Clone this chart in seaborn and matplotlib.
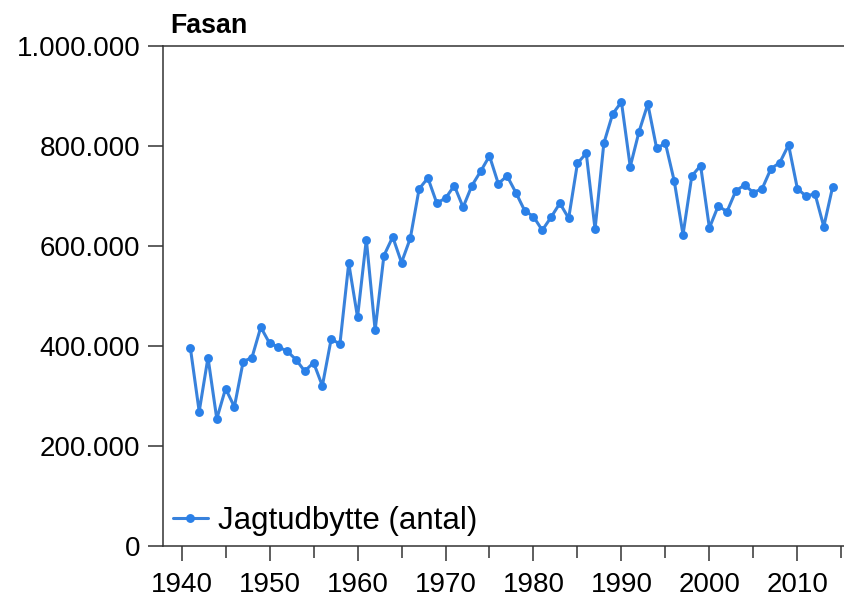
import matplotlib
matplotlib.use("Agg")
import matplotlib.pyplot as plt
import matplotlib.ticker as mticker
import seaborn as sns
import pandas as pd

years = list(range(1941, 2015))
values = [
    394800, 268000, 376000, 253400, 314000, 277400, 368000, 376000, 436800, 404800,
    397400, 388800, 372000, 348800, 366000, 319400, 412800, 403400, 564800, 456800,
    612200, 430800, 580000, 617400, 566000, 614800, 713400, 735400, 685400, 694800,
    720000, 676800, 720000, 748800, 779400, 724000, 739400, 706000, 670000, 658000,
    630800, 656800, 684800, 654800, 764800, 784800, 632800, 804800, 863400, 887400,
    758000, 828000, 883400, 794800, 804800, 729400, 622000, 739400, 760000, 635400,
    679400, 668000, 709400, 721400, 706000, 714000, 754000, 766000, 801400, 714000,
    698800, 704000, 638000, 716800,
]
series_label = "Jagtudbytte (antal)"
title = "Fasan"
x_major = list(range(1940, 2011, 10))
x_minor = list(range(1945, 2016, 10))
y_ticks = [0, 200000, 400000, 600000, 800000, 1000000]

df = pd.DataFrame({"year": years, "value": values, "series": series_label})

sns.set_theme(style="white")
plt.rcParams["font.family"] = ["Liberation Sans", "DejaVu Sans"]

fig = plt.figure(figsize=(8.44, 6.01), dpi=100)
ax = fig.add_axes([163.3 / 844, 1 - 545.5 / 601, 1 - 163.3 / 844, (545.5 - 45.7) / 601])

line_col = "#3882dc"
sns.lineplot(data=df, x="year", y="value", hue="series", palette=[line_col],
             marker="o", markersize=6.4, markerfacecolor="#2a80e8",
             markeredgewidth=0, linewidth=2.2, ax=ax)

ax.set_xlim(1937.92, 2015.3)
ax.set_ylim(0, 1000000)
ax.set_xticks(x_major)
ax.set_xticks(x_minor, minor=True)
ax.set_yticks(y_ticks)
ax.yaxis.set_major_formatter(mticker.FuncFormatter(lambda v, p: f"{int(v):,}".replace(",", ".")))
ax.set_xlabel("")
ax.set_ylabel("")

for s in ["left", "bottom", "top"]:
    ax.spines[s].set_visible(True)
    ax.spines[s].set_color("#333333")
    ax.spines[s].set_linewidth(1.1)
ax.spines["right"].set_visible(False)

ax.tick_params(axis="both", which="both", direction="out", color="#333333", width=1.1,
               labelsize=20, labelcolor="black")
ax.tick_params(axis="x", which="major", length=10.8, pad=8.5, bottom=True)
ax.tick_params(axis="x", which="minor", length=8.4, bottom=True)
ax.tick_params(axis="y", which="major", length=10.8, pad=5.8, left=True)

ax.text(170 / 844, 1 - 33 / 601, title, transform=fig.transFigure,
        fontsize=19.3, fontweight="bold", ha="left", va="baseline", color="black")

leg = ax.legend(loc="lower left", bbox_to_anchor=(0.0, 0.0), frameon=False,
                fontsize=22.5, handlelength=1.12, handletextpad=0.32,
                borderaxespad=0.1, borderpad=0.2)
for t in leg.get_texts():
    t.set_color("black")

fig.savefig("out.png", dpi=100)
